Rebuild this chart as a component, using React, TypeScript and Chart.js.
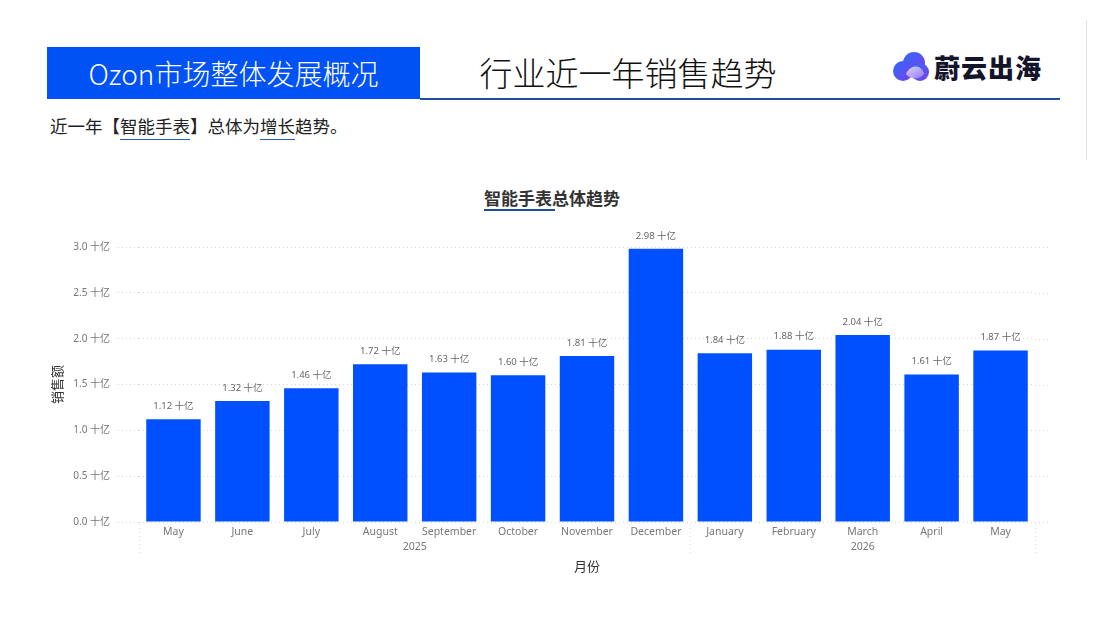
import React, { useEffect, useRef } from "react";
import { Chart, registerables } from "chart.js";

Chart.register(...registerables);

const months = [
  "May", "June", "July", "August", "September", "October", "November", "December",
  "January", "February", "March", "April", "May",
];
const years = ["2025", "2025", "2025", "2025", "2025", "2025", "2025", "2025", "2026", "2026", "2026", "2026", "2026"];
const sales = [1.12, 1.32, 1.46, 1.72, 1.63, 1.6, 1.81, 2.98, 1.84, 1.88, 2.04, 1.61, 1.87];
const yTicks = [0, 0.5, 1.0, 1.5, 2.0, 2.5, 3.0];
const unit = "十亿";

const BAR = "#0050FF";
const FONT = "'Noto Sans', 'Noto Sans CJK SC', sans-serif";
const CJK = "'Noto Sans CJK SC', 'Noto Sans', sans-serif";

const extrasPlugin = {
  id: "extras",
  afterDraw(chart: any) {
    const ctx = chart.ctx;
    const area = chart.chartArea;
    const xs = chart.scales.x;
    const ys = chart.scales.y;
    ctx.save();
    ctx.strokeStyle = "#d6d6d6";
    ctx.lineWidth = 1;
    ctx.setLineDash([1, 3]);
    ys.ticks.forEach((t: any) => {
      const y = Math.round(ys.getPixelForValue(t.value)) + 0.5;
      ctx.beginPath();
      ctx.moveTo(area.right, y);
      ctx.lineTo(area.right + 15, y);
      ctx.stroke();
    });
    const groups: { year: string; start: number; end: number }[] = [];
    years.forEach((yr, i) => {
      const g = groups[groups.length - 1];
      if (g && g.year === yr) g.end = i;
      else groups.push({ year: yr, start: i, end: i });
    });
    const step = xs.getPixelForValue(1) - xs.getPixelForValue(0);
    const bounds: number[] = [];
    groups.forEach((g, gi) => {
      const x0 = xs.getPixelForValue(g.start) - step / 2;
      const x1 = xs.getPixelForValue(g.end) + step / 2;
      if (gi === 0) bounds.push(x0);
      bounds.push(x1);
      ctx.fillStyle = "#777";
      ctx.font = `10.5px ${FONT}`;
      ctx.textAlign = "center";
      ctx.textBaseline = "middle";
      ctx.fillText(g.year, (xs.getPixelForValue(g.start) + xs.getPixelForValue(g.end)) / 2, area.bottom + 25);
    });
    ctx.strokeStyle = "#dcdcdc";
    bounds.forEach((bx) => {
      const x = Math.round(bx) + 0.5;
      ctx.beginPath();
      ctx.moveTo(x, area.bottom + 2);
      ctx.lineTo(x, area.bottom + 34);
      ctx.stroke();
    });
    ctx.setLineDash([]);
    const meta = chart.getDatasetMeta(0);
    ctx.fillStyle = "#666";
    ctx.font = `9.5px ${FONT}`;
    ctx.textAlign = "center";
    ctx.textBaseline = "middle";
    meta.data.forEach((el: any, i: number) => {
      ctx.fillText(`${sales[i].toFixed(2)} ${unit}`, el.x, el.y - 13);
    });
    ctx.restore();
  },
};

function BarChart() {
  const ref = useRef<HTMLCanvasElement | null>(null);
  useEffect(() => {
    if (!ref.current) return;
    const chart = new Chart(ref.current, {
      type: "bar",
      data: {
        labels: months,
        datasets: [
          {
            data: sales,
            backgroundColor: BAR,
            barPercentage: 0.79,
            categoryPercentage: 1,
          },
        ],
      },
      options: {
        animation: false,
        responsive: false,
        devicePixelRatio: 1,
        layout: { padding: { top: 22, right: 35, left: 0, bottom: 0 } },
        plugins: { legend: { display: false }, tooltip: { enabled: false } },
        scales: {
          x: {
            grid: { display: false, drawTicks: false, tickLength: 0 },
            border: { display: false },
            ticks: { color: "#777", font: { size: 10.5, family: FONT }, padding: 4, maxRotation: 0, autoSkip: false },
            title: { display: true, text: "月份", color: "#333", font: { size: 13, family: CJK }, padding: { top: 0, bottom: 16 } },
            afterFit: (s: any) => { s.height = 68; },
          },
          y: {
            min: 0,
            max: 3,
            afterBuildTicks: (s: any) => { s.ticks = yTicks.map((v) => ({ value: v })); },
            grid: { color: "#d6d6d6", tickLength: 21, lineWidth: 1 },
            border: { display: false, dash: [1, 3] },
            ticks: {
              color: "#777",
              font: { size: 10, family: FONT },
              padding: 8,
              callback: (v: any) => `${Number(v).toFixed(1)} ${unit}`,
            },
            title: { display: true, text: "销售额", color: "#333", font: { size: 13, family: CJK }, padding: { top: 9, bottom: 0 } },
            afterFit: (s: any) => { s.width = 99; },
          },
        },
      },
      plugins: [
        {
          id: "dashGrid",
          beforeDraw(chart: any) {
            const g = chart.scales.y.options.grid;
            g.borderDash = [1, 3];
            g.tickBorderDash = [1, 3];
          },
        },
        extrasPlugin,
      ],
    } as any);
    return () => chart.destroy();
  }, []);
  return <canvas ref={ref} width={1030} height={365} style={{ position: "absolute", left: 40, top: 225, width: 1030, height: 365 }} />;
}

function Logo() {
  return (
    <div style={{ position: "absolute", left: 892, top: 48, display: "flex", alignItems: "center" }}>
      <svg width="40" height="34" viewBox="0 0 40 34">
        <defs>
          <linearGradient id="lg1" x1="0" y1="0" x2="1" y2="1">
            <stop offset="0" stopColor="#2f6bff" />
            <stop offset="1" stopColor="#7b3fe4" />
          </linearGradient>
          <linearGradient id="lg2" x1="0" y1="0" x2="1" y2="1">
            <stop offset="0" stopColor="#e8e2ff" />
            <stop offset="1" stopColor="#9b7cf0" />
          </linearGradient>
        </defs>
        <circle cx="22" cy="13" r="11" fill="url(#lg1)" />
        <circle cx="11" cy="21" r="10" fill="url(#lg1)" />
        <circle cx="28" cy="22" r="9" fill="url(#lg1)" />
        <path d="M14 24 C 18 14, 30 14, 32 24 C 27 30, 19 30, 14 24 Z" fill="url(#lg2)" opacity="0.9" />
      </svg>
      <span style={{ fontFamily: CJK, fontWeight: 900, fontSize: 26, color: "#14142b", marginLeft: 2, letterSpacing: 1 }}>蔚云出海</span>
    </div>
  );
}

export default function App() {
  const ul = { borderBottom: "1.5px solid #2a5cc0", paddingBottom: 1 };
  return (
    <div style={{ position: "fixed", left: 0, top: 0, width: 1107, height: 640, background: "#fff", overflow: "hidden" }}>
      <div style={{ position: "absolute", left: 1086, top: 20, width: 1, height: 140, background: "#e4e4e4" }} />
      <div
        style={{
          position: "absolute", left: 47, top: 47, width: 373, height: 52, background: "#0052F5",
          color: "#fff", fontFamily: CJK, fontSize: 28, fontWeight: 300, display: "flex", alignItems: "center", justifyContent: "center",
        }}
      >
        Ozon市场整体发展概况
      </div>
      <div style={{ position: "absolute", left: 420, top: 98, width: 640, height: 2, background: "#1F4E9C" }} />
      <div
        style={{
          position: "absolute", left: 430, top: 50, width: 396, textAlign: "center", fontFamily: CJK, fontSize: 33,
          fontWeight: 300, color: "#111", lineHeight: "44px",
        }}
      >
        行业近一年销售趋势
      </div>
      <Logo />
      <div style={{ position: "absolute", left: 50, top: 114, fontFamily: CJK, fontSize: 17.5, color: "#222", lineHeight: "24px" }}>
        近一年【<span style={ul}>智能手表</span>】总体为<span style={ul}>增长</span>趋势。
      </div>
      <div
        style={{
          position: "absolute", left: 382, top: 186, width: 340, textAlign: "center", fontFamily: CJK, fontSize: 17,
          fontWeight: 700, color: "#333", lineHeight: "24px",
        }}
      >
        <span style={{ position: "relative" }}>
          智能手表总体趋势
          <span style={{ position: "absolute", left: 0, top: 24, width: 71, height: 1.5, background: "#1F4E9C" }} />
        </span>
      </div>
      <BarChart />
    </div>
  );
}
